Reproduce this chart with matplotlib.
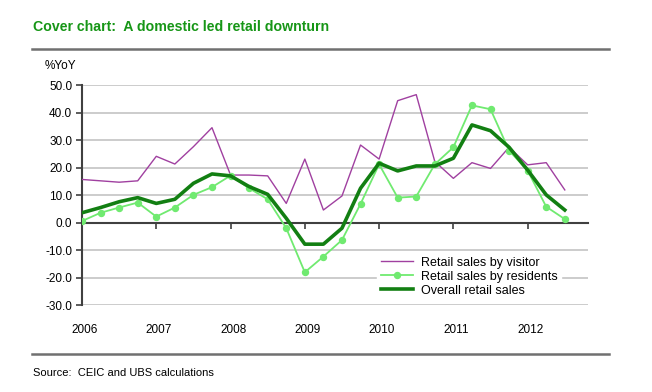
import matplotlib
matplotlib.use('Agg')
import matplotlib.pyplot as plt
import numpy as np

plt.rcParams['font.family'] = ['Liberation Sans Narrow', 'Liberation Sans', 'DejaVu Sans']
plt.rcParams['font.stretch'] = 'condensed'
plt.rcParams['axes.unicode_minus'] = False

# quarterly data, 2006 Q1 .. 2012 Q3
quarters = np.arange(27)
visitor = [15.7, 15.2, 14.7, 15.2, 24.1, 21.3, 27.6, 34.5, 17.3, 17.3, 17.0, 7.0, 23.1, 4.6,
           9.7, 28.2, 23.1, 44.3, 46.5, 22.2, 16.1, 21.8, 19.7, 27.4, 21.0, 21.8, 11.9]
residents = [0.6, 3.6, 5.5, 7.3, 2.2, 5.5, 10.1, 12.9, 17.1, 12.5, 8.5, -2.0, -18.0, -12.3,
             -6.3, 6.8, 21.2, 9.1, 9.5, 21.2, 27.4, 42.6, 41.2, 26.2, 18.9, 5.8, 1.3]
overall = [3.6, 5.5, 7.6, 9.1, 7.0, 8.5, 14.3, 17.7, 17.0, 13.1, 10.3, 1.6, -7.8, -7.8,
           -2.0, 12.5, 21.6, 18.8, 20.6, 20.6, 23.4, 35.5, 33.4, 27.4, 19.1, 10.1, 4.6]
years = ['2006', '2007', '2008', '2009', '2010', '2011', '2012']
year_pos = [0, 4, 8, 12, 16, 20, 24]
yticks = [50, 40, 30, 20, 10, 0, -10, -20, -30]
ytick_labels = ['50.0', '40.0', '30.0', '20.0', '10.0', '0.0', '-10.0', '-20.0', '-30.0']

fig = plt.figure(figsize=(6.52, 3.92), dpi=100)
ax = fig.add_axes([82/652, 1 - 305.3/392, (588 - 82)/652, (305.3 - 85)/392])

for y in yticks:
    if y != 0:
        ax.axhline(y, color='#c8c8c8', lw=1.3, zorder=0)

ax.plot(quarters, visitor, color='#a040a0', lw=1.0, label='Retail sales by visitor', zorder=3)
ax.plot(quarters, residents, color='#70ea70', lw=1.3, marker='o', ms=4.3, mec='#70ea70',
        label='Retail sales by residents', zorder=4)
ax.plot(quarters, overall, color='#127f12', lw=2.6, label='Overall retail sales', zorder=5)

ax.set_xlim(0, 27.25)
ax.set_ylim(-30, 50)

ax.spines['top'].set_visible(False)
ax.spines['right'].set_visible(False)
ax.spines['bottom'].set_position(('data', 0))
ax.spines['bottom'].set_color('#404040')
ax.spines['bottom'].set_linewidth(1.5)
ax.spines['left'].set_color('#404040')
ax.spines['left'].set_linewidth(1.5)

ax.set_yticks(yticks)
ax.set_yticklabels(ytick_labels)
ax.set_xticks(year_pos)
ax.set_xticklabels([])
ax.tick_params(axis='y', direction='out', length=4, width=1.2, color='#404040',
               labelsize=8.5, pad=3)
ax.tick_params(axis='x', direction='out', length=4, width=1.2, color='#404040')

for p, yr in zip(year_pos, years):
    ax.annotate(yr, xy=(p, -30), xycoords='data', xytext=(2, -18), textcoords='offset points',
                ha='center', va='center', fontsize=8.5, annotation_clip=False)

leg = ax.legend(loc='upper left', bbox_to_anchor=(377/652, 1 - 253/392),
                bbox_transform=fig.transFigure, frameon=True, fontsize=9,
                handlelength=2.6, handletextpad=0.6, labelspacing=0.15,
                borderpad=0.3, fancybox=False, borderaxespad=0)
leg.get_frame().set_edgecolor('white')
leg.get_frame().set_facecolor('white')
leg.get_frame().set_alpha(1)
leg.set_zorder(6)

fig.text(33/652, 1 - 27/392, 'Cover chart:  A domestic led retail downturn', color='#179617',
         fontsize=10.2, fontweight='bold', ha='left', va='center')
fig.text(45/652, 1 - 66/392, '%YoY', fontsize=8.5, ha='left', va='center')
fig.text(33/652, 1 - 373/392, 'Source:  CEIC and UBS calculations', fontsize=8, ha='left', va='center')

fig.add_artist(plt.Line2D([32/652, 609/652], [1 - 49/392, 1 - 49/392], color='#707070', lw=1.8))
fig.add_artist(plt.Line2D([32/652, 609/652], [1 - 354/392, 1 - 354/392], color='#707070', lw=1.8))

fig.savefig('out.png', dpi=100)
